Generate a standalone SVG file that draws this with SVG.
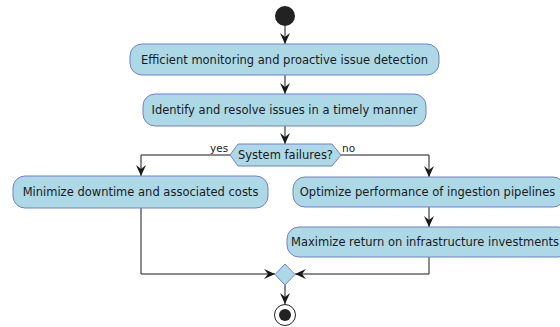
<svg xmlns="http://www.w3.org/2000/svg" width="560" height="327" viewBox="0 0 560 327">
<defs>
<style>
.box{fill:#ADD8E6;stroke:#7080CC;stroke-width:1}
.t{font-family:"DejaVu Sans",sans-serif;font-size:11.5px;fill:#1a1a1a;text-anchor:middle}
.lbl{font-family:"DejaVu Sans",sans-serif;font-size:10.5px;fill:#1a1a1a}
.ln{fill:none;stroke:#181818;stroke-width:1}
</style>
<marker id="ah" viewBox="0 0 12 10" refX="11" refY="5" markerWidth="12" markerHeight="10" orient="auto" markerUnits="userSpaceOnUse">
<path d="M0,0 L11,5 L0,10 L4,5 Z" fill="#181818"/>
</marker>
</defs>
<rect width="560" height="327" fill="#FFFFFF"/>
<g id="connectors">
<line class="ln" x1="285" y1="26" x2="285" y2="44" marker-end="url(#ah)"/>
<line class="ln" x1="285" y1="75" x2="285" y2="94" marker-end="url(#ah)"/>
<line class="ln" x1="285" y1="126" x2="285" y2="144" marker-end="url(#ah)"/>
<polyline class="ln" points="230,155 141,155 141,176" marker-end="url(#ah)"/>
<polyline class="ln" points="341,155 429,155 429,177" marker-end="url(#ah)"/>
<line class="ln" x1="429" y1="207" x2="429" y2="227" marker-end="url(#ah)"/>
<polyline class="ln" points="141,208 141,274 275,274" marker-end="url(#ah)"/>
<polyline class="ln" points="429,257 429,274 295,274" marker-end="url(#ah)"/>
<line class="ln" x1="285" y1="285" x2="285" y2="304" marker-end="url(#ah)"/>
<text class="lbl" x="210" y="152">yes</text>
<text class="lbl" x="342" y="152">no</text>
</g>
<g id="start"><circle cx="285" cy="16" r="10" fill="#222222"/></g>
<g id="n1"><rect class="box" x="130" y="44" width="309" height="31" rx="12"/><text class="t" x="284.5" y="64">Efficient monitoring and proactive issue detection</text></g>
<g id="n2"><rect class="box" x="143" y="94" width="283" height="32" rx="12"/><text class="t" x="284.5" y="114">Identify and resolve issues in a timely manner</text></g>
<g id="d1"><polygon class="box" points="230,155 238,144 332,144 341,155 332,166 238,166"/><text class="t" x="285.5" y="159">System failures?</text></g>
<g id="n3"><rect class="box" x="13" y="176" width="255" height="32" rx="12"/><text class="t" x="140.5" y="196">Minimize downtime and associated costs</text></g>
<g id="n4"><rect class="box" x="293" y="177" width="272" height="30" rx="12"/><text class="t" x="427.5" y="196">Optimize performance of ingestion pipelines</text></g>
<g id="n5"><rect class="box" x="287" y="227" width="283" height="30" rx="12"/><text class="t" x="425" y="246">Maximize return on infrastructure investments</text></g>
<g id="merge"><polygon class="box" points="285,264 295,274.5 285,285 275,274.5"/></g>
<g id="end"><circle cx="285" cy="315" r="10.5" fill="#FFFFFF" stroke="#222222" stroke-width="1"/><circle cx="285" cy="315" r="6" fill="#222222"/></g>
</svg>
